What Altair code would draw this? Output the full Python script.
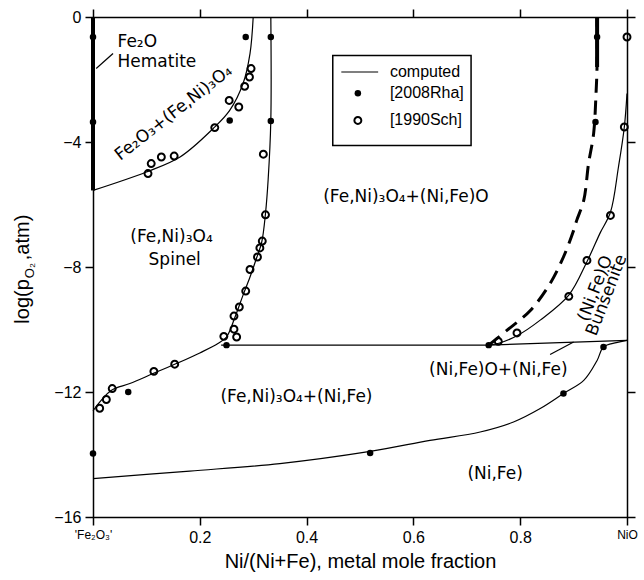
import altair as alt
import pandas as pd

# ---------------- data (x = Ni/(Ni+Fe), y = log pO2) ----------------
# computed phase boundaries
hem_x = [0.0, 0.0]
hem_y = [0.0, -5.55]
hemsp_x = [0.0, 0.10, 0.163, 0.225, 0.256, 0.281, 0.294, 0.300]
hemsp_y = [-5.55, -4.96, -4.48, -3.57, -2.99, -2.13, -1.17, 0.0]
spin_x = [0.333, 0.333, 0.328, 0.323, 0.316, 0.306, 0.294, 0.281, 0.266, 0.25,
          0.234, 0.20, 0.163, 0.1125, 0.069, 0.034, 0.0]
spin_y = [0.0, -3.31, -5.2, -6.29, -7.2, -7.73, -8.32, -8.9, -9.6, -10.24,
          -10.45, -10.75, -11.04, -11.41, -11.73, -11.95, -12.6]
alloy_x = [0.0, 0.181, 0.35, 0.519, 0.631, 0.725, 0.7875, 0.8375, 0.881, 0.919,
           0.944, 0.956, 0.98, 1.0]
alloy_y = [-14.77, -14.53, -14.29, -13.9, -13.55, -13.28, -12.96, -12.53, -12.05,
           -11.63, -10.99, -10.56, -10.42, -10.35]
tri_x = [0.24, 0.741]
tri_y = [-10.5, -10.5]
wl_x = [0.741, 1.0]
wl_y = [-10.5, -10.35]
nio_x = [0.741, 0.76, 0.794, 0.8375, 0.891, 0.925, 0.95, 0.969, 0.984, 0.995, 1.0]
nio_y = [-10.5, -10.44, -10.2, -9.7, -8.9, -7.83, -6.9, -6.25, -4.8, -3.52, -2.45]
dash_x = [0.741, 0.775, 0.819, 0.856, 0.881, 0.9, 0.906, 0.919, 0.928, 0.9375,
          0.942, 0.944, 0.944]
dash_y = [-10.5, -10.03, -9.39, -8.53, -7.68, -6.83, -6.5, -5.87, -4.69, -3.73,
          -2.45, -1.5, 0.0]
top_x = [0.944, 0.944]
top_y = [-1.6, 0.0]

# experimental points
rha_x = [0.0, 0.0, 0.286, 0.256, 0.333, 0.333, 0.25, 0.066, 0.0, 0.519, 0.881,
         0.956, 0.741, 0.941, 0.944]
rha_y = [-0.64, -3.36, -0.64, -3.31, -0.64, -3.33, -10.5, -12.0, -13.97, -13.95,
         -12.05, -10.56, -10.5, -3.36, -0.64]
sch_x = [0.103, 0.109, 0.128, 0.152, 0.228, 0.255, 0.273, 0.284, 0.293, 0.296,
         0.319, 0.323, 0.317, 0.3125, 0.308, 0.294, 0.286, 0.274, 0.264, 0.264,
         0.269, 0.245, 0.153, 0.114, 0.036, 0.025, 0.0125, 0.759, 0.794, 0.891,
         0.925, 0.969, 0.995, 1.0]
sch_y = [-5.01, -4.69, -4.48, -4.45, -3.54, -2.67, -2.88, -2.22, -1.92, -1.65,
         -4.39, -6.33, -7.17, -7.39, -7.68, -8.08, -8.77, -9.28, -9.57, -9.99,
         -10.24, -10.22, -11.11, -11.34, -11.89, -12.24, -12.52, -10.38, -10.11,
         -8.94, -7.79, -6.35, -3.52, -0.64]

x_ticks = [0, 0.2, 0.4, 0.6, 0.8, 1.0]
y_ticks = [0, -4, -8, -12, -16]


def curves(d):
    rows = []
    for name, (xs, ys) in d.items():
        for i, (a, b) in enumerate(zip(xs, ys)):
            rows.append({"curve": name, "i": i, "x": a, "y": b})
    return pd.DataFrame(rows)


thin_df = curves({"hemsp": (hemsp_x, hemsp_y), "spin": (spin_x, spin_y),
                  "alloy": (alloy_x, alloy_y), "tri": (tri_x, tri_y),
                  "wl": (wl_x, wl_y), "nio": (nio_x, nio_y)})
thick_df = curves({"hem": (hem_x, hem_y), "top": (top_x, top_y)})
dash_df = curves({"dash": (dash_x, dash_y)})
rha_df = pd.DataFrame({"x": rha_x, "y": rha_y})
sch_df = pd.DataFrame({"x": sch_x, "y": sch_y})

XS = alt.Scale(domain=[0, 1], nice=False, zero=False)
YS = alt.Scale(domain=[-16, 0], nice=False, zero=False)


def X(axis=None):
    return alt.X("x:Q", scale=XS, axis=axis)


def Y(axis=None):
    return alt.Y("y:Q", scale=YS, axis=axis)


common_axis = dict(grid=False, tickSize=8, tickWidth=1.5, tickColor="black",
                   domainColor="black", domainWidth=1.5)

x_axis = alt.Axis(values=x_ticks, title="Ni/(Ni+Fe), metal mole fraction",
                  titleFont="Liberation Sans", titleFontSize=20, titleFontWeight="normal",
                  titleColor="black", titlePadding=6,
                  labelFont="Liberation Sans",
                  labelFontSize={"condition": {"test": "datum.value === 0 || datum.value === 1", "value": 12}, "value": 16},
                  labelColor="black", labelPadding=4, labelFlush=False,
                  labelExpr="datum.value === 0 ? \"'Fe₂O₃'\" : (datum.value === 1 ? 'NiO' : format(datum.value, '.1f'))",
                  **common_axis)
y_axis = alt.Axis(values=y_ticks, title=None, labelFont="Liberation Sans",
                  labelFontSize=16, labelColor="black", labelPadding=4,
                  labelFlush=False, **common_axis)
x_top = alt.Axis(values=x_ticks, orient="top", labels=False, title=None, **common_axis)
y_right = alt.Axis(values=y_ticks, orient="right", labels=False, title=None, **common_axis)

base = alt.Chart(thin_df).mark_line(color="black", strokeWidth=1.2,
                                    interpolate="catmull-rom").encode(
    x=X(x_axis), y=Y(y_axis), detail="curve:N", order="i:Q")
frame = alt.Chart(rha_df).mark_point(opacity=0).encode(x=X(x_top), y=Y(y_right))
thick = alt.Chart(thick_df).mark_line(color="black", strokeWidth=4, strokeCap="butt").encode(
    x=X(), y=Y(), detail="curve:N", order="i:Q")
dashed = alt.Chart(dash_df).mark_line(color="black", strokeWidth=3, strokeDash=[14, 8],
                                      interpolate="catmull-rom").encode(
    x=X(), y=Y(), order="i:Q")
rha = alt.Chart(rha_df).mark_point(filled=True, color="black", size=42, opacity=1).encode(x=X(), y=Y())
sch = alt.Chart(sch_df).mark_point(filled=False, color="black", size=48, strokeWidth=2,
                                   opacity=1).encode(x=X(), y=Y())


def seg(x1, y1, x2, y2, w=1.2):
    df = pd.DataFrame({"x": [x1, x2], "y": [y1, y2], "i": [0, 1]})
    return alt.Chart(df).mark_line(color="black", strokeWidth=w).encode(x=X(), y=Y(), order="i:Q")


def label(text, x, y, size=17, font="DejaVu Sans", angle=0, align="center",
          baseline="middle", dx=0, dy=0):
    df = pd.DataFrame({"x": [x], "y": [y]})
    kw = dict(text=text, font=font, fontSize=size, color="black", align=align,
              baseline=baseline, dx=dx, dy=dy)
    if angle:
        kw["angle"] = angle
    return alt.Chart(df).mark_text(**kw).encode(x=X(), y=Y())


# legend box
legend_box = alt.Chart(pd.DataFrame({"x": [0.449], "x2": [0.708], "y": [-1.23], "y2": [-4.11]})).mark_rect(
    fill="white", stroke="black", strokeWidth=1.5).encode(
    x=X(), x2="x2:Q", y=Y(), y2="y2:Q")
leg_line = seg(0.465, -1.76, 0.534, -1.76, 1.2)
leg_dot = alt.Chart(pd.DataFrame({"x": [0.496], "y": [-2.44]})).mark_point(
    filled=True, color="black", size=42, opacity=1).encode(x=X(), y=Y())
leg_open = alt.Chart(pd.DataFrame({"x": [0.496], "y": [-3.31]})).mark_point(
    filled=False, color="black", size=48, strokeWidth=2, opacity=1).encode(x=X(), y=Y())

layers = [
    base, frame, thick, dashed,
    seg(0.006, -1.65, 0.0375, -1.17), seg(0.856, -10.8, 0.9, -10.4),
    rha, sch,
    legend_box, leg_line, leg_dot, leg_open,
    label("computed", 0.556, -1.76, size=16, font="Liberation Sans", align="left"),
    label("[2008Rha]", 0.556, -2.44, size=16, font="Liberation Sans", align="left"),
    label("[1990Sch]", 0.556, -3.31, size=16, font="Liberation Sans", align="left"),
    label("Fe₂O", 0.046, -0.8, align="left"),
    label("Hematite", 0.046, -1.44, align="left"),
    label("Fe₂O₃+(Fe,Ni)₃O₄", 0.151, -3.07, angle=322),
    label("(Fe,Ni)₃O₄", 0.147, -7.04),
    label("Spinel", 0.153, -7.79),
    label("(Fe,Ni)₃O₄+(Ni,Fe)O", 0.586, -5.76),
    label("(Fe,Ni)₃O₄+(Ni,Fe)", 0.381, -12.16),
    label("(Ni,Fe)O+(Ni,Fe)", 0.759, -11.3),
    label("(Ni,Fe)", 0.753, -14.61),
    label("(Ni,Fe)O", 0.941, -8.69, angle=291),
    label("Bunsenite", 0.962, -8.9, angle=291),
    # y-axis title pieces
    label("log(p", -0.119, -8.39, size=20, font="Liberation Sans", angle=270,
          align="right", baseline="alphabetic"),
    label("O₂", -0.119, -8.39, size=13, font="Liberation Sans", angle=270,
          align="left", baseline="alphabetic", dx=1, dy=5),
    label(",atm)", -0.119, -8.39, size=20, font="Liberation Sans", angle=270,
          align="left", baseline="alphabetic", dx=19),
]

chart = alt.layer(*layers).resolve_axis(x="independent", y="independent").properties(
    width=534, height=500,
    autosize=alt.AutoSizeParams(type="none"),
    padding={"left": 93, "top": 17, "right": 17, "bottom": 63},
).configure_view(stroke="black", strokeWidth=1)

chart.save("out.html", embed_options={"renderer": "svg", "actions": False})
